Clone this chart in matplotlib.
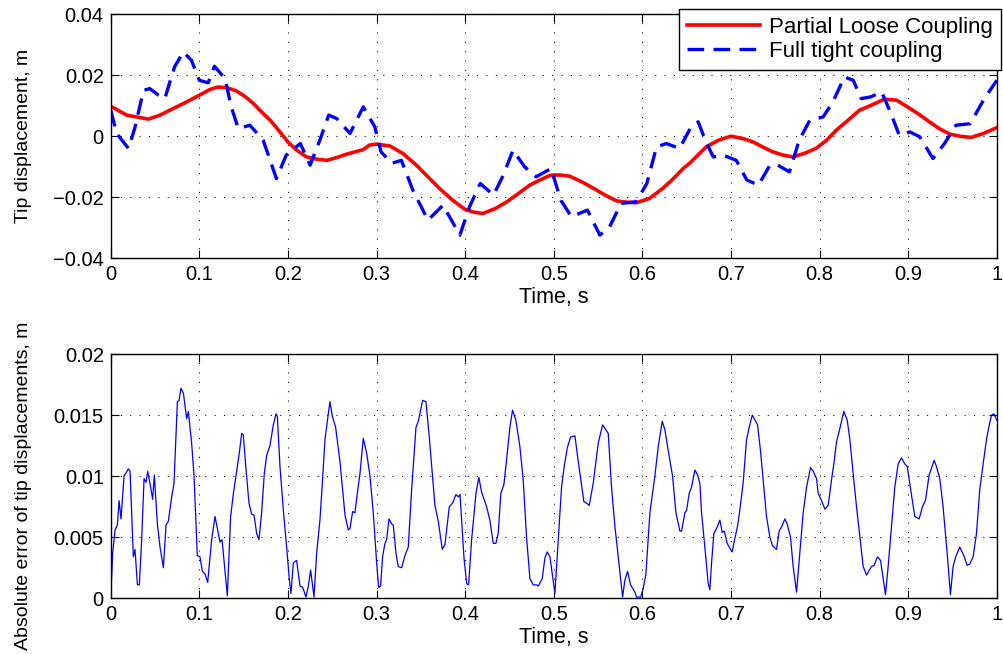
import numpy as np
import matplotlib
matplotlib.use('Agg')
import matplotlib.pyplot as plt

plt.rcParams['font.family'] = ['Liberation Sans', 'DejaVu Sans']

# tip displacement, partial loose coupling (red)
t_loose = [0, 0.018, 0.029, 0.0425, 0.0557, 0.0707, 0.082, 0.1, 0.112, 0.121,
           0.131, 0.142, 0.152, 0.161, 0.17, 0.18, 0.191, 0.2, 0.21, 0.221,
           0.232, 0.244, 0.255, 0.266, 0.285, 0.292, 0.3, 0.315, 0.33, 0.345,
           0.358, 0.371, 0.386, 0.4, 0.41, 0.42, 0.434, 0.447, 0.46, 0.473,
           0.484, 0.496, 0.507, 0.518, 0.532, 0.545, 0.558, 0.571, 0.582, 0.593,
           0.608, 0.623, 0.635, 0.646, 0.654, 0.672, 0.686, 0.7, 0.714, 0.725,
           0.737, 0.747, 0.759, 0.77, 0.784, 0.796, 0.808, 0.819, 0.832, 0.845,
           0.858, 0.873, 0.887, 0.898, 0.911, 0.924, 0.935, 0.947, 0.958, 0.971,
           0.985, 1.0]
y_loose = [0.0098, 0.0069, 0.0063, 0.0056, 0.0069, 0.0091, 0.0107, 0.0134, 0.0153, 0.0161,
           0.0159, 0.0148, 0.0129, 0.0107, 0.0080, 0.0052, 0.0014, -0.0019, -0.0046, -0.0068,
           -0.0075, -0.0079, -0.0070, -0.0059, -0.0044, -0.0029, -0.0026, -0.0032, -0.0057, -0.0095,
           -0.0133, -0.0171, -0.0210, -0.0240, -0.0249, -0.0253, -0.0237, -0.0215, -0.0188, -0.0160,
           -0.0144, -0.0128, -0.0127, -0.0131, -0.0150, -0.0171, -0.0193, -0.0212, -0.0216, -0.0218,
           -0.0204, -0.0171, -0.0139, -0.0106, -0.0087, -0.0035, -0.0013, 0.0, -0.0008, -0.0019,
           -0.0037, -0.0051, -0.0062, -0.0068, -0.0055, -0.0040, -0.0013, 0.0020, 0.0052, 0.0085,
           0.0101, 0.0121, 0.0118, 0.0098, 0.0074, 0.0047, 0.0025, 0.0007, 0.0, -0.0004,
           0.0009, 0.0028]

# tip displacement, full tight coupling (blue dashed)
t_tight = [0, 0.0067, 0.02, 0.027, 0.037, 0.044, 0.054, 0.061, 0.072, 0.082,
           0.091, 0.1, 0.11, 0.117, 0.129, 0.136, 0.144, 0.157, 0.172, 0.187,
           0.198, 0.214, 0.225, 0.236, 0.246, 0.255, 0.27, 0.285, 0.298, 0.305,
           0.317, 0.328, 0.341, 0.358, 0.375, 0.394, 0.405, 0.417, 0.432, 0.443,
           0.454, 0.467, 0.48, 0.497, 0.508, 0.52, 0.538, 0.552, 0.563, 0.576,
           0.593, 0.605, 0.616, 0.627, 0.642, 0.654, 0.663, 0.671, 0.68, 0.691,
           0.706, 0.718, 0.731, 0.744, 0.753, 0.766, 0.777, 0.789, 0.804, 0.815,
           0.828, 0.838, 0.847, 0.858, 0.87, 0.879, 0.89, 0.902, 0.913, 0.928,
           0.941, 0.954, 0.97, 0.985, 1.0]
y_tight = [0.0085, 0.0009, -0.0040, 0.0025, 0.0150, 0.0156, 0.0134, 0.0123, 0.0227, 0.0276,
           0.0249, 0.0183, 0.0175, 0.0229, 0.0189, 0.0096, 0.0025, 0.0036, -0.0013, -0.0139,
           -0.0062, -0.0024, -0.0095, -0.0013, 0.0069, 0.0058, 0.0009, 0.0096, 0.0031, -0.0051,
           -0.0089, -0.0079, -0.0177, -0.0275, -0.0226, -0.0324, -0.0231, -0.0155, -0.0193, -0.0128,
           -0.0046, -0.0100, -0.0133, -0.0106, -0.0210, -0.0264, -0.0242, -0.0324, -0.0297, -0.0220,
           -0.0215, -0.0155, -0.0035, -0.0024, -0.0040, 0.0025, 0.0047, -0.0013, -0.0068, -0.0062,
           -0.0079, -0.0144, -0.0160, -0.0095, -0.0095, -0.0117, -0.0013, 0.0052, 0.0063, 0.0112,
           0.0194, 0.0183, 0.0123, 0.0129, 0.0145, 0.0085, 0.0003, 0.0014, -0.0002, -0.0073,
           -0.0024, 0.0036, 0.0041, 0.0118, 0.0183]

# absolute error between the two
t_err = [0.000, 0.0022, 0.0049, 0.0075, 0.0094, 0.0116, 0.0150, 0.0199, 0.0218, 0.0255,
         0.0274, 0.0301, 0.0323, 0.0349, 0.0376, 0.0398, 0.0417, 0.0443, 0.0473, 0.0492,
         0.0526, 0.0556, 0.0594, 0.0624, 0.0650, 0.0688, 0.0714, 0.0752, 0.0771, 0.0793,
         0.0820, 0.0857, 0.0876, 0.0913, 0.0940, 0.0977, 0.1007, 0.1034, 0.1064, 0.1094,
         0.1139, 0.1177, 0.1233, 0.1256, 0.1278, 0.1316, 0.1353, 0.1383, 0.1421, 0.1451,
         0.1478, 0.1496, 0.1523, 0.1560, 0.1590, 0.1617, 0.1647, 0.1673, 0.1703, 0.1733,
         0.1760, 0.1797, 0.1835, 0.1865, 0.1880, 0.1910, 0.1948, 0.1985, 0.2016, 0.2034,
         0.2061, 0.2098, 0.2136, 0.2166, 0.2203, 0.2230, 0.2256, 0.2294, 0.2324, 0.2361,
         0.2388, 0.2418, 0.2448, 0.2474, 0.2501, 0.2538, 0.2587, 0.2644, 0.2681, 0.2700,
         0.2730, 0.2756, 0.2783, 0.2813, 0.2850, 0.2888, 0.2926, 0.2963, 0.3001, 0.3023,
         0.3046, 0.3068, 0.3095, 0.3114, 0.3140, 0.3170, 0.3189, 0.3219, 0.3245,
         0.3283, 0.3321, 0.3358, 0.3396, 0.3445, 0.3471, 0.3520, 0.3558, 0.3595, 0.3629,
         0.3659, 0.3697, 0.3742, 0.3772, 0.3821, 0.3859, 0.3896, 0.3923, 0.3942, 0.3987,
         0.4017, 0.4039, 0.4073, 0.4122, 0.4155, 0.4185, 0.4242, 0.4279, 0.4317, 0.4347,
         0.4373, 0.4403, 0.4437, 0.4467, 0.4505, 0.4535, 0.4572, 0.4618, 0.4655, 0.4693,
         0.4731, 0.4768, 0.4806, 0.4825, 0.4870, 0.4900, 0.4926, 0.4957, 0.4983, 0.5013,
         0.5051, 0.5088, 0.5118, 0.5152, 0.5190, 0.5239, 0.5269, 0.5306, 0.5340, 0.5370,
         0.5400, 0.5445, 0.5502, 0.5551, 0.5588, 0.5615, 0.5652, 0.5690, 0.5728, 0.5777,
         0.5803, 0.5833, 0.5867, 0.5916, 0.5934, 0.5980, 0.6010, 0.6040, 0.6085, 0.6141,
         0.6179, 0.6224, 0.6254, 0.6292, 0.6341, 0.6379, 0.6424, 0.6443, 0.6480, 0.6499,
         0.6529, 0.6555, 0.6593, 0.6623, 0.6649,
         0.6668, 0.6705, 0.6743, 0.6762, 0.6781, 0.6807, 0.6837, 0.6875, 0.6901, 0.6924,
         0.6957, 0.6987, 0.7014, 0.7044, 0.7074, 0.7100, 0.7138, 0.7176, 0.7206, 0.7240,
         0.7270, 0.7300, 0.7333, 0.7363, 0.7401, 0.7439, 0.7469, 0.7514, 0.7544, 0.7582,
         0.7608, 0.7634, 0.7672, 0.7702, 0.7740, 0.7777, 0.7815, 0.7853, 0.7898, 0.7928,
         0.7966, 0.7984, 0.8022, 0.8060, 0.8097, 0.8135, 0.8161, 0.8191, 0.8229, 0.8274,
         0.8312, 0.8342, 0.8379, 0.8417, 0.8455, 0.8492, 0.8530, 0.8586, 0.8616, 0.8654,
         0.8688, 0.8710, 0.8744, 0.8774, 0.8812, 0.8849, 0.8887, 0.8924, 0.8962, 0.8989,
         0.9026, 0.9075, 0.9124, 0.9161, 0.9195, 0.9237, 0.9293, 0.9319, 0.9357, 0.9394,
         0.9440, 0.9477, 0.9507, 0.9537, 0.9582, 0.9628, 0.9665, 0.9695, 0.9733, 0.9771,
         0.9808, 0.9846, 0.9884, 0.9910, 0.9940, 0.9966, 1.0000]
err = [0.0000, 0.0037, 0.0056, 0.0060, 0.0080, 0.0065, 0.0100, 0.0106, 0.0104, 0.0034,
       0.0040, 0.0011, 0.0011, 0.0048, 0.0098, 0.0095, 0.0104, 0.0094, 0.0081, 0.0101,
       0.0061, 0.0042, 0.0025, 0.0060, 0.0063, 0.0083, 0.0094, 0.0161, 0.0162, 0.0172,
       0.0168, 0.0147, 0.0153, 0.0127, 0.0100, 0.0035, 0.0034, 0.0022, 0.0020, 0.0013,
       0.0048, 0.0067, 0.0046, 0.0048, 0.0031, 0.0002, 0.0067, 0.0085, 0.0104, 0.0119,
       0.0135, 0.0134, 0.0109, 0.0078, 0.0069, 0.0068, 0.0053, 0.0048, 0.0070, 0.0102,
       0.0117, 0.0125, 0.0142, 0.0151, 0.0149, 0.0108, 0.0072, 0.0042, 0.0015, 0.0004,
       0.0029, 0.0031, 0.0010, 0.0009, 0.0001, 0.0010, 0.0023, 0.0001, 0.0037, 0.0064,
       0.0094, 0.0130, 0.0147, 0.0161, 0.0149, 0.0140, 0.0112, 0.0068, 0.0056, 0.0057,
       0.0071, 0.0070, 0.0086, 0.0102, 0.0131, 0.0119, 0.0100, 0.0070, 0.0029, 0.0009,
       0.0010, 0.0034, 0.0045, 0.0048, 0.0065, 0.0061, 0.0060, 0.0037, 0.0026,
       0.0025, 0.0035, 0.0042, 0.0089, 0.0140, 0.0145, 0.0162, 0.0161, 0.0132, 0.0102,
       0.0076, 0.0063, 0.0040, 0.0044, 0.0075, 0.0078, 0.0085, 0.0083, 0.0085, 0.0033,
       0.0012, 0.0011, 0.0048, 0.0086, 0.0099, 0.0087, 0.0075, 0.0064, 0.0045, 0.0045,
       0.0053, 0.0086, 0.0093, 0.0113, 0.0140, 0.0154, 0.0146, 0.0124, 0.0097, 0.0050,
       0.0016, 0.0011, 0.0011, 0.0010, 0.0016, 0.0033, 0.0038, 0.0034, 0.0020, 0.0004,
       0.0048, 0.0091, 0.0108, 0.0123, 0.0132, 0.0133, 0.0116, 0.0097, 0.0079, 0.0078,
       0.0076, 0.0094, 0.0127, 0.0142, 0.0138, 0.0135, 0.0091, 0.0059, 0.0034, 0.0001,
       0.0015, 0.0022, 0.0011, 0.0005, 0.0001, 0.0001, 0.0008, 0.0020, 0.0070, 0.0100,
       0.0124, 0.0145, 0.0138, 0.0121, 0.0100, 0.0070, 0.0055, 0.0055, 0.0070, 0.0072,
       0.0086, 0.0091, 0.0105, 0.0101, 0.0094,
       0.0070, 0.0042, 0.0012, 0.0007, 0.0029, 0.0053, 0.0057, 0.0064, 0.0054, 0.0055,
       0.0045, 0.0041, 0.0038, 0.0049, 0.0059, 0.0072, 0.0095, 0.0130, 0.0140, 0.0150,
       0.0146, 0.0142, 0.0121, 0.0097, 0.0067, 0.0050, 0.0043, 0.0040, 0.0055, 0.0060,
       0.0065, 0.0061, 0.0050, 0.0026, 0.0005, 0.0037, 0.0070, 0.0091, 0.0107, 0.0104,
       0.0098, 0.0086, 0.0080, 0.0073, 0.0076, 0.0097, 0.0110, 0.0128, 0.0139, 0.0153,
       0.0146, 0.0130, 0.0102, 0.0075, 0.0050, 0.0026, 0.0019, 0.0026, 0.0027, 0.0034,
       0.0031, 0.0020, 0.0003, 0.0026, 0.0059, 0.0091, 0.0110, 0.0115, 0.0110, 0.0108,
       0.0090, 0.0067, 0.0065, 0.0075, 0.0080, 0.0101, 0.0113, 0.0108, 0.0098, 0.0075,
       0.0037, 0.0003, 0.0026, 0.0034, 0.0042, 0.0035, 0.0027, 0.0028, 0.0034, 0.0053,
       0.0089, 0.0110, 0.0130, 0.0140, 0.0150, 0.0151, 0.0146]

xticks = np.arange(0, 1.01, 0.1)
xlabels = ['0', '0.1', '0.2', '0.3', '0.4', '0.5', '0.6', '0.7', '0.8', '0.9', '1']

fig = plt.figure(figsize=(10.04, 6.54), dpi=100)
ax1 = fig.add_axes([0.1103, 0.605, 0.8825, 0.3735])
ax2 = fig.add_axes([0.1103, 0.0852, 0.8825, 0.3735])


def style(ax):
    ax.set_xlim(0, 1)
    ax.set_xticks(xticks)
    ax.set_xticklabels(xlabels)
    ax.grid(True, color='black', linestyle=(0, (1, 8)), linewidth=0.75)
    ax.tick_params(direction='in', length=5.5, width=0.8, top=True, right=True,
                   labelsize=14.5, pad=5)
    for s in ax.spines.values():
        s.set_linewidth(1.0)
    ax.set_xlabel('Time, s', fontsize=15.5, labelpad=2)


ax1.plot(t_loose, y_loose, color='red', linewidth=2.6, label='Partial Loose Coupling')
ax1.plot(t_tight, y_tight, color='blue', linewidth=2.4, dashes=(5, 2.8),
         label='Full tight coupling')
ax1.set_ylim(-0.04, 0.04)
ax1.set_yticks([-0.04, -0.02, 0, 0.02, 0.04])
ax1.set_yticklabels(['\u22120.04', '\u22120.02', '0', '0.02', '0.04'])
style(ax1)
ax1.set_ylabel('Tip displacement, m', fontsize=14)
ax1.yaxis.set_label_coords(-0.0888, 0.5)
leg = ax1.legend(loc='upper right', bbox_to_anchor=(1001 / 1004, 1 - 9 / 654),
                 bbox_transform=fig.transFigure, fontsize=16, fancybox=False,
                 framealpha=1, edgecolor='black', handlelength=3.3,
                 handletextpad=0.4, borderpad=0.35, labelspacing=0.15,
                 borderaxespad=0)
leg.get_frame().set_linewidth(1.0)

ax2.plot(t_err, err, color='blue', linewidth=0.9)
ax2.set_ylim(0, 0.02)
ax2.set_yticks([0, 0.005, 0.01, 0.015, 0.02])
ax2.set_yticklabels(['0', '0.005', '0.01', '0.015', '0.02'])
style(ax2)
ax2.set_ylabel('Absolute error of tip displacements, m', fontsize=14)
ax2.yaxis.set_label_coords(-0.0888, 0.46)

fig.savefig('out.png', dpi=100)
